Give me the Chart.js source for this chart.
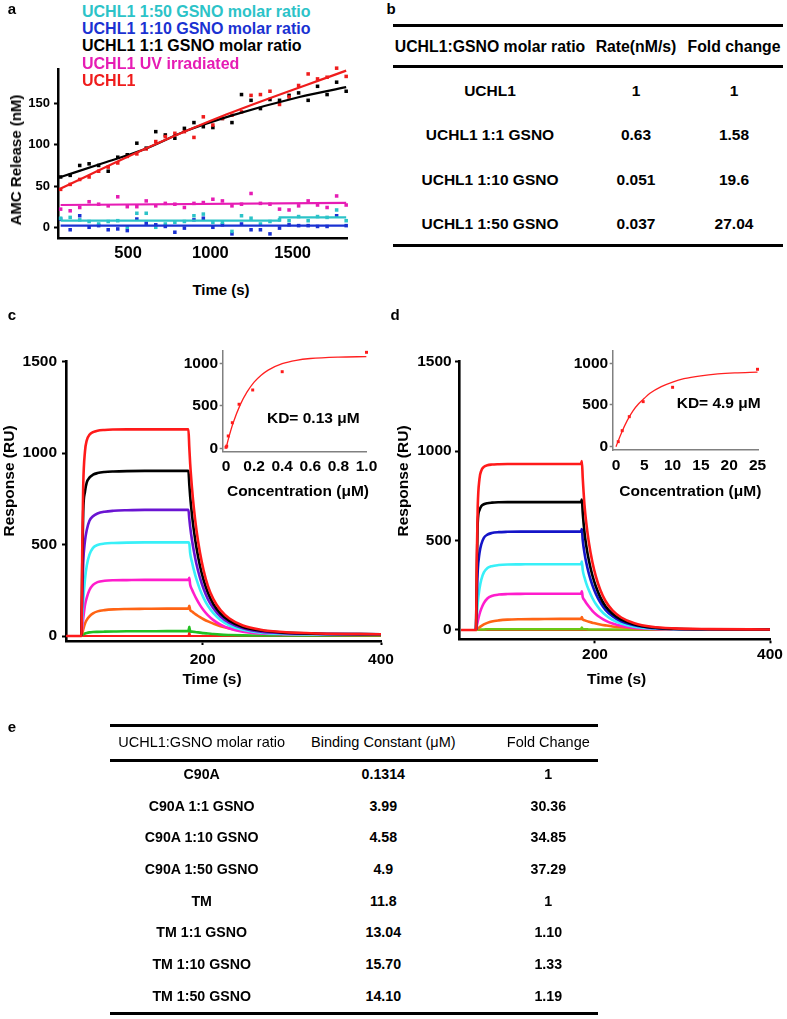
<!DOCTYPE html>
<html><head><meta charset="utf-8">
<script src="https://cdn.jsdelivr.net/npm/chart.js@4.4.1/dist/chart.umd.min.js"></script>
<style>
html,body{margin:0;padding:0;background:#fff;}
body{width:787px;height:1019px;position:relative;overflow:hidden;font-family:"Liberation Sans",Arial,Helvetica,sans-serif;}
canvas{position:absolute;}
.t{position:absolute;white-space:nowrap;color:#000;}
.rule{position:absolute;background:#000;}
</style></head><body>
<script>
// ---------- Panel a data ----------
const aTime = [90,148,206,263,321,379,437,495,553,610,668,726,784,842,900,957,1015,1073,1131,1189,1247,1304,1362,1420,1478,1536,1594,1651,1709,1767,1825];
const aUCHL1  = [46,52,58,61,68,73,78,86,89,95,104,110,114,116,109,134,124,132,136,140,160,161,165,149,158,172,186,180,182,193,183];
const aUV     = [22,20,24,31,28,26,37,25,25,32,26,29,28,24,29,30,34,32,26,28,41,29,28,22,21,26,32,27,24,38,27];
const aGSNO1  = [61,63,75,77,75,68,85,88,102,96,116,112,108,120,127,122,121,132,127,161,154,144,155,154,160,163,154,171,161,176,165];
const aGSNO10 = [10,-3,14,0,2,-3,-2,-4,10,5,3,1,-6,-1,9,11,0,3,-8,4,-3,-3,-8,-1,3,2,2,1,1,14,2];
const aGSNO50 = [11,12,9,7,4,7,8,0,17,17,0,4,6,7,14,16,6,6,-5,14,11,4,7,9,8,13,8,13,12,21,8];
const fitUCHL1T = [90,591,1100,1825],  fitUCHL1V = [47,94,137,190];
const fitGSNO1T = [90,350,591,854,1137,1541,1825], fitGSNO1V = [61,78,94,117,136,158,170];
const fitUVT = [90,1825],     fitUVV = [27,29.5];
const fitGSNO10T = [90,1825], fitGSNO10V = [2,2];
const fitGSNO50T = [90,1420,1421,1825], fitGSNO50V = [8,8,12,12];
const aTicksX = [500,1000,1500], aTickXLabels = ['500','1000','1500'];
const aTicksY = [0,50,100,150],  aTickYLabels = ['0','50','100','150'];
const legendA = ['UCHL1 1:50 GSNO molar ratio','UCHL1 1:10 GSNO molar ratio','UCHL1 1:1 GSNO molar ratio','UCHL1 UV irradiated','UCHL1'];

// ---------- Panel c / d sensorgrams ----------
const spTime = [47,63,64,65,66,68,70,73,77,82,90,100,115,135,160,184,185,186,188,190,193,197,201,206,212,220,230,245,265,290,330,400];
const cRed    = [0,0,0,500,820,1010,1070,1100,1115,1123,1127,1129,1130,1130,1130,1130,1030,940,810,705,580,455,360,272,202,142,96,58,35,22,14,10];
const cBlack  = [null,null,0,420,680,790,840,866,882,891,897,900,902,903,903,903,829,762,663,582,484,383,307,235,175,123,83,50,30,19,13,10];
const cPurple = [null,null,0,230,400,520,580,630,655,670,680,685,688,690,690,690,641,596,525,468,394,318,259,200,152,107,72,43,24,16,12,10];
const cCyan   = [null,null,0,100,190,310,385,445,482,498,506,509,511,512,512,512,505,452,405,363,311,254,209,164,125,88,58,34,19,12,9,8];
const cMagenta= [null,null,0,50,95,170,210,252,280,295,302,305,306,307,307,307,318,280,255,233,203,169,141,113,87,62,41,24,14,10,8,8];
const cOrange = [null,null,0,15,35,68,88,108,124,135,142,146,148,149,150,150,165,142,134,126,116,103,92,80,68,54,42,29,18,12,8,6];
const cGreen  = [null,null,0,5,9,14,17,20,22,23,24,25,26,26,27,27,50,26,24,23,21,19,16,14,11,8,6,4,3,3,3,3];
const cZero   = [0,0,0,0,0,0,0,0,0,0,0,0,0,0,0,0,22,0,0,0,0,0,0,0,0,0,0,0,0,0,0,0];

const dRed    = [0,0,0,420,690,845,890,912,921,925,927,928,928,928,928,928,945,850,700,600,490,380,300,225,162,110,70,38,18,9,5,3];
const dBlack  = [null,null,0,330,600,670,692,703,709,712,714,715,715,715,715,715,730,655,546,472,390,306,243,184,133,91,58,31,14,7,4,3];
const dBlue   = [null,null,0,180,330,430,478,515,533,542,547,549,550,550,550,550,565,502,430,377,315,251,202,155,113,77,48,26,12,6,4,3];
const dCyan   = [null,null,0,80,150,230,280,322,346,357,363,366,367,368,368,368,382,335,294,261,222,179,145,113,84,57,36,19,9,5,3,3];
const dMagenta= [null,null,0,25,48,88,118,150,176,190,198,201,202,203,203,203,216,184,167,151,131,107,88,70,52,36,23,12,6,4,3,3];
const dOrange = [null,null,0,4,8,15,22,31,40,48,54,58,60,61,62,62,72,58,55,51,46,41,36,31,26,20,15,10,6,4,3,2];
const dGreen  = [null,null,0,1,2,3,3,3,4,4,4,4,4,4,4,4,14,4,4,4,3,3,3,3,3,3,3,3,3,2,2,2];
const dZero   = [0,0,0,0,0,0,0,0,0,0,0,0,0,0,0,0,8,0,0,0,0,0,0,0,0,0,0,0,0,0,0,0];
const spTicksX = [200,400], spTickXLabels = ['200','400'];
const spTicksY = [0,500,1000,1500], spTickYLabels = ['0','500','1000','1500'];

// ---------- Insets ----------
const insetCConc = [0,0.005,0.016,0.045,0.093,0.19,0.4,1.0];
const insetCResp = [12,25,145,301,518,686,901,1129];
const fitCConc = [0,0.02,0.05,0.1,0.15,0.2,0.25,0.3,0.4,0.5,0.6,0.8,1.0];
const fitCResp = [0,128,294,508,663,778,859,920,995,1035,1056,1073,1078];
const insetDConc = [0.4,1.1,2.35,4.8,10,25];
const insetDResp = [60,192,360,540,712,928];
const fitDConc = [0,1,2,3,4,5,6,8,10,12,15,18,21,25];
const fitDResp = [0,170,315,430,515,580,640,720,775,815,850,872,885,895];
const inCTicksX = [0,0.2,0.4,0.6,0.8,1.0], inCTickXLabels = ['0','0.2','0.4','0.6','0.8','1.0'];
const inDTicksX = [0,5,10,15,20,25], inDTickXLabels = ['0','5','10','15','20','25'];
const inTicksY = [0,500,1000], inTickYLabels = ['0','500','1000'];

// ---------- Tables ----------
const tableBHead = ['UCHL1:GSNO molar ratio','Rate(nM/s)','Fold change'];
const tableBRows = [['UCHL1','1','1'],['UCHL1 1:1 GSNO','0.63','1.58'],['UCHL1 1:10 GSNO','0.051','19.6'],['UCHL1 1:50 GSNO','0.037','27.04']];
const tableEHead = ['UCHL1:GSNO molar ratio','Binding Constant (μM)','Fold Change'];
const tableERows = [['C90A','0.1314','1'],['C90A 1:1 GSNO','3.99','30.36'],['C90A 1:10 GSNO','4.58','34.85'],['C90A 1:50 GSNO','4.9','37.29'],['TM','11.8','1'],['TM 1:1 GSNO','13.04','1.10'],['TM 1:10 GSNO','15.70','1.33'],['TM 1:50 GSNO','14.10','1.19']];

// ================= rendering =================
const FONT = '"Liberation Sans", Arial, Helvetica, sans-serif';

function txt(s, x, y, size, weight, color, align, rot) {
  const d = document.createElement('div');
  d.className = 't';
  d.textContent = s;
  d.style.fontSize = size + 'px';
  d.style.lineHeight = (size * 1.2) + 'px';
  d.style.fontWeight = weight;
  d.style.color = color || '#000';
  d.style.left = x + 'px';
  d.style.top = y + 'px';
  if (align === 'left') d.style.transform = 'translate(0,-50%)';
  else d.style.transform = 'translate(-50%,-50%)' + (rot ? ' rotate(' + rot + 'deg)' : '');
  document.body.appendChild(d);
}
function rule(x1, x2, y, th) {
  const d = document.createElement('div');
  d.className = 'rule';
  d.style.left = x1 + 'px'; d.style.width = (x2 - x1) + 'px';
  d.style.top = (y - th / 2) + 'px'; d.style.height = th + 'px';
  document.body.appendChild(d);
}
function pts(xs, ys) {
  return xs.map((x, i) => ({x: x, y: ys[i]})).filter(p => p.y !== null);
}
function axis(o, dir, size) {
  return {
    type: 'linear', min: o.min, max: o.max,
    afterBuildTicks: s => { s.ticks = o.ticks.map(v => ({value: v})); },
    afterFit: s => {
      if (dir === 'x') { s.height = size; s.paddingLeft = 0; s.paddingRight = 0; }
      else { s.width = size; s.paddingTop = 0; s.paddingBottom = 0; }
    },
    ticks: { autoSkip: false, maxRotation: 0, minRotation: 0, padding: o.pad, color: '#000',
             font: {family: FONT, size: o.fs, weight: 'bold'}, callback: (v, i) => o.labels[i] },
    grid: { display: true, drawOnChartArea: false, drawTicks: o.tl > 0, tickLength: o.tl,
            tickColor: o.color, tickWidth: o.tw || 2 },
    border: { display: true, color: o.color, width: o.bw }
  };
}
function makeChart(box, area, ox, oy, datasets) {
  const c = document.createElement('canvas');
  c.width = box[2]; c.height = box[3];
  c.style.left = box[0] + 'px'; c.style.top = box[1] + 'px';
  c.style.width = box[2] + 'px'; c.style.height = box[3] + 'px';
  document.body.appendChild(c);
  const yW = area[0] - box[0], xH = box[1] + box[3] - area[3];
  return new Chart(c, {
    type: 'line',
    data: { datasets: datasets },
    options: {
      responsive: false, maintainAspectRatio: false, animation: false, devicePixelRatio: 1,
      layout: { padding: { left: 0, top: area[1] - box[1], right: box[0] + box[2] - area[2], bottom: 0 } },
      plugins: { legend: { display: false }, tooltip: { enabled: false } },
      elements: { point: { radius: 0 } },
      scales: { x: axis(ox, 'x', xH), y: axis(oy, 'y', yW) }
    }
  });
}
function ptSet(xs, ys, color, r) {
  return { data: pts(xs, ys), showLine: false, pointStyle: 'rect', pointRadius: r,
           pointBackgroundColor: color, pointBorderWidth: 0, borderColor: color, clip: false };
}
function lineSet(xs, ys, color, w, smooth) {
  return { data: pts(xs, ys), borderColor: color, borderWidth: w, pointRadius: 0, fill: false,
           tension: 0, cubicInterpolationMode: smooth ? 'monotone' : 'default' };
}

// ---- Panel a ----
const colA = { c50: '#2cc3c8', c10: '#1a32d2', c1: '#000000', uv: '#e61cb4', wt: '#ef1c1c' };
makeChart([0, 60, 390, 215], [58, 69, 347, 238],
  { min: 74, max: 1830, ticks: aTicksX, labels: aTickXLabels, fs: 16.5, pad: 5.4, tl: 0, color: '#000', bw: 2.5 },
  { min: -13, max: 192, ticks: aTicksY, labels: aTickYLabels, fs: 13, pad: 4, tl: 4, color: '#000', bw: 2.5 },
  [
    lineSet(fitUCHL1T, fitUCHL1V, colA.wt, 2.2, true),
    lineSet(fitGSNO1T, fitGSNO1V, colA.c1, 2.2, true),
    lineSet(fitUVT, fitUVV, colA.uv, 2.2, false),
    lineSet(fitGSNO50T, fitGSNO50V, colA.c50, 2.2, false),
    lineSet(fitGSNO10T, fitGSNO10V, colA.c10, 2.2, false),
    ptSet(aTime, aUCHL1, colA.wt, 2.5),
    ptSet(aTime, aGSNO1, colA.c1, 2.5),
    ptSet(aTime, aUV, colA.uv, 2.5),
    ptSet(aTime, aGSNO50, colA.c50, 2.5),
    ptSet(aTime, aGSNO10, colA.c10, 2.5)
  ]);
const legendColors = [colA.c50, colA.c10, colA.c1, colA.uv, colA.wt];
legendA.forEach((s, i) => txt(s, 82, 12 + i * 17.2, 16, 'bold', legendColors[i], 'left'));
txt('AMC Release (nM)', 15.5, 160, 15, 'bold', '#000', 'center', -90);
txt('Time (s)', 221, 289.7, 15, 'bold');

// ---- Panel c ----
const spCol = { red: '#ff1a1a', black: '#000000', purple: '#6a14d2', blue: '#1414c8', cyan: '#38f0f8',
                magenta: '#ff1ccc', orange: '#ff6414', greenC: '#22c022', greenD: '#6cc814' };
const W = 2.6;
makeChart([0, 330, 400, 360], [66, 361.7, 381, 641],
  { min: 46.7, max: 400, ticks: spTicksX, labels: spTickXLabels, fs: 15.5, pad: 5, tl: 4, color: '#000', bw: 2.6 },
  { min: -27, max: 1500, ticks: spTicksY, labels: spTickYLabels, fs: 15.5, pad: 5, tl: 4, color: '#000', bw: 2.6 },
  [
    lineSet(spTime, cRed, spCol.red, W, true),
    lineSet(spTime, cBlack, spCol.black, W, true),
    lineSet(spTime, cPurple, spCol.purple, W, true),
    lineSet(spTime, cCyan, spCol.cyan, W, true),
    lineSet(spTime, cMagenta, spCol.magenta, W, true),
    lineSet(spTime, cOrange, spCol.orange, W, true),
    lineSet(spTime, cGreen, spCol.greenC, W, true),
    lineSet(spTime, cZero, spCol.red, 2, false)
  ]);
txt('Response (RU)', 8.5, 481, 15.5, 'bold', '#000', 'center', -90);
txt('Time (s)', 212, 679, 15.5, 'bold');

// inset c
makeChart([180, 340, 205, 145], [222.7, 350.7, 366.7, 451.7],
  { min: -0.0235, max: 1.0014, ticks: inCTicksX, labels: inCTickXLabels, fs: 15.5, pad: 5.7, tl: 0, color: '#808080', bw: 1.5 },
  { min: -40, max: 1148, ticks: inTicksY, labels: inTickYLabels, fs: 15.5, pad: 1.5, tl: 3, color: '#808080', bw: 1.5, tw: 1.5 },
  [
    lineSet(fitCConc, fitCResp, '#ff2020', 1.3, true),
    ptSet(insetCConc, insetCResp, '#ff1a1a', 2.1)
  ]);
txt('Concentration (μM)', 298, 491, 15.5, 'bold');
txt('KD= 0.13 μM', 313.3, 417.5, 15.5, 'bold');

// ---- Panel d ----
makeChart([400, 330, 387, 360], [459, 361.7, 770, 639.3],
  { min: 44.6, max: 400, ticks: spTicksX, labels: spTickXLabels, fs: 15.5, pad: 2.4, tl: 4, color: '#000', bw: 2.6 },
  { min: -52, max: 1500, ticks: spTicksY, labels: spTickYLabels, fs: 15.5, pad: 3.3, tl: 4, color: '#000', bw: 2.6 },
  [
    lineSet(spTime, dRed, spCol.red, W, true),
    lineSet(spTime, dBlack, spCol.black, W, true),
    lineSet(spTime, dBlue, spCol.blue, W, true),
    lineSet(spTime, dCyan, spCol.cyan, W, true),
    lineSet(spTime, dMagenta, spCol.magenta, W, true),
    lineSet(spTime, dOrange, spCol.orange, W, true),
    lineSet(spTime, dGreen, spCol.greenD, W, true),
    lineSet(spTime, dZero, spCol.red, 2, false)
  ]);
txt('Response (RU)', 403, 481, 15.5, 'bold', '#000', 'center', -90);
txt('Time (s)', 616.7, 679, 15.5, 'bold');

// inset d
makeChart([570, 340, 212, 145], [612.7, 350.7, 758.3, 450],
  { min: -0.58, max: 25.14, ticks: inDTicksX, labels: inDTickXLabels, fs: 15.5, pad: 6.7, tl: 0, color: '#808080', bw: 1.5 },
  { min: -40, max: 1151, ticks: inTicksY, labels: inTickYLabels, fs: 15.5, pad: 1.5, tl: 3, color: '#808080', bw: 1.5, tw: 1.5 },
  [
    lineSet(fitDConc, fitDResp, '#ff2020', 1.3, true),
    ptSet(insetDConc, insetDResp, '#ff1a1a', 2.1)
  ]);
txt('Concentration (μM)', 690.3, 491, 15.5, 'bold');
txt('KD= 4.9 μM', 718.7, 403, 15.5, 'bold');

// ---- Panel b table ----
const bCols = [490, 636, 734];
rule(393, 783, 25, 3);
rule(393, 783, 66, 3);
rule(393, 783, 245, 3);
tableBHead.forEach((s, j) => txt(s, bCols[j], 47, 15.8, 'bold'));
tableBRows.forEach((row, i) => row.forEach((s, j) => txt(s, bCols[j], [91, 135, 180, 224][i], 15.5, 'bold')));

// ---- Panel e table ----
const eCols = [201.7, 383.3, 548.3];
rule(110, 598, 725.7, 3);
rule(110, 598, 760, 3);
rule(110, 598, 1013.3, 3);
tableEHead.forEach((s, j) => txt(s, eCols[j], 743, 14.5, 'normal'));
tableERows.forEach((row, i) => row.forEach((s, j) => txt(s, eCols[j], 775 + i * 31.67, 14.2, 'bold')));

// ---- panel letters ----
txt('a', 12, 9, 15, 'bold');
txt('b', 391, 9, 15, 'bold');
txt('c', 12, 315, 15, 'bold');
txt('d', 395, 315, 15, 'bold');
txt('e', 12, 727, 15, 'bold');
</script>
</body></html>
